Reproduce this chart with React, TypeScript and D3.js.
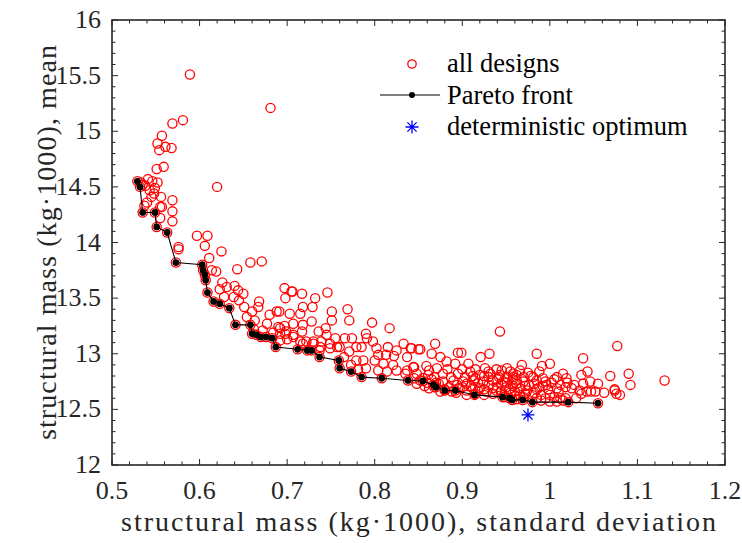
import React from "react";
import * as d3 from "d3";

// all designs (std dev, mean)
const allDesigns: [number, number][] = [
  [0.589, 15.51], [0.681, 15.21], [0.569, 15.07], [0.581, 15.1], [0.557, 14.96], [0.552, 14.89],
  [0.554, 14.83], [0.561, 14.86], [0.568, 14.85], [0.551, 14.66], [0.559, 14.68], [0.62, 14.5],
  [0.541, 14.57], [0.552, 14.54], [0.543, 14.47], [0.538, 14.51], [0.545, 14.41], [0.556, 14.41],
  [0.569, 14.38], [0.557, 14.32], [0.537, 14.33], [0.548, 14.44], [0.546, 14.55], [0.535, 14.52],
  [0.549, 14.49], [0.533, 14.54], [0.54, 14.36], [0.555, 14.22], [0.569, 14.19], [0.569, 14.28],
  [0.555, 14.32], [0.597, 14.06], [0.609, 14.06], [0.606, 13.97], [0.576, 13.96], [0.576, 13.94],
  [0.625, 13.92], [0.611, 13.86], [0.658, 13.82], [0.671, 13.83], [0.643, 13.76], [0.614, 13.75],
  [0.619, 13.74], [0.626, 13.64], [0.623, 13.58], [0.631, 13.6], [0.64, 13.61], [0.644, 13.57],
  [0.65, 13.54], [0.639, 13.51], [0.645, 13.48], [0.628, 13.51], [0.668, 13.47], [0.667, 13.42],
  [0.651, 13.42], [0.66, 13.38], [0.654, 13.33], [0.68, 13.35], [0.688, 13.38], [0.677, 13.27],
  [0.663, 13.3], [0.697, 13.59], [0.706, 13.56], [0.698, 13.5], [0.717, 13.54], [0.732, 13.5],
  [0.746, 13.55], [0.718, 13.42], [0.729, 13.42], [0.691, 13.38], [0.703, 13.36], [0.715, 13.36],
  [0.751, 13.38], [0.769, 13.4], [0.69, 13.24], [0.697, 13.25], [0.707, 13.27], [0.728, 13.29],
  [0.718, 13.26], [0.751, 13.3], [0.771, 13.3], [0.797, 13.28], [0.817, 13.23], [0.692, 13.18],
  [0.699, 13.2], [0.707, 13.15], [0.717, 13.2], [0.736, 13.2], [0.744, 13.23], [0.745, 13.17],
  [0.755, 13.14], [0.766, 13.14], [0.774, 13.14], [0.79, 13.18], [0.791, 13.14], [0.798, 13.11],
  [0.718, 13.09], [0.73, 13.11], [0.739, 13.11], [0.749, 13.05], [0.757, 13.06], [0.771, 13.02],
  [0.779, 13.06], [0.785, 13.06], [0.802, 13.05], [0.815, 13.06], [0.825, 13.03], [0.833, 13.09],
  [0.842, 13.05], [0.85, 13.04], [0.804, 12.99], [0.813, 12.99], [0.822, 12.98], [0.837, 12.97],
  [0.779, 12.94], [0.787, 12.94], [0.8, 12.94], [0.81, 12.91], [0.821, 12.9], [0.804, 12.85],
  [0.814, 12.84], [0.825, 12.85], [0.837, 12.85], [0.844, 12.88], [0.79, 12.87], [0.692, 13.12],
  [0.7, 13.13], [0.737, 13.03], [0.672, 13.21], [0.684, 13.19], [0.662, 13.22], [0.765, 12.97],
  [0.773, 12.9], [0.781, 12.86], [0.692, 13.23], [0.698, 13.18], [0.707, 13.17], [0.715, 13.11],
  [0.722, 13.11], [0.73, 13.09], [0.738, 13.06], [0.749, 13.09], [0.76, 13.06], [0.705, 13.56],
  [0.943, 13.2], [0.841, 13.05], [0.852, 13.04], [0.869, 13.09], [0.865, 13.0], [0.875, 12.97],
  [0.895, 13.01], [0.899, 13.01], [0.921, 12.97], [0.931, 13.0], [0.882, 12.93], [0.892, 12.91],
  [0.907, 12.91], [0.845, 12.88], [0.859, 12.89], [0.871, 12.87], [0.926, 12.87], [0.939, 12.86],
  [0.951, 12.87], [0.835, 12.82], [0.848, 12.82], [0.861, 12.81], [0.878, 12.82], [0.895, 12.82],
  [0.909, 12.84], [0.92, 12.81], [0.932, 12.82], [0.943, 12.81], [0.958, 12.82], [0.852, 12.76],
  [0.865, 12.77], [0.878, 12.75], [0.89, 12.76], [0.901, 12.75], [0.913, 12.76], [0.924, 12.75],
  [0.935, 12.76], [0.947, 12.75], [0.962, 12.76], [0.897, 12.69], [0.905, 12.67], [0.92, 12.69],
  [0.928, 12.66], [0.939, 12.67], [0.954, 12.68], [0.894, 12.72], [0.873, 12.73], [0.885, 12.7],
  [0.91, 12.71], [0.945, 12.72], [0.86, 12.74], [0.868, 12.79], [0.887, 12.79], [0.903, 12.79],
  [0.915, 12.78], [0.93, 12.79], [0.951, 12.79], [0.97, 12.79], [0.985, 13.0], [1.038, 12.96],
  [0.968, 12.9], [0.991, 12.89], [1.0, 12.91], [0.966, 12.85], [1.043, 12.84], [1.036, 12.81],
  [1.069, 12.8], [1.015, 12.82], [1.008, 12.79], [1.019, 12.78], [0.981, 12.79], [0.992, 12.78],
  [0.958, 12.79], [1.046, 12.75], [1.038, 12.73], [1.055, 12.73], [1.025, 12.69], [1.034, 12.67],
  [1.042, 12.66], [1.052, 12.66], [1.062, 12.65], [1.074, 12.67], [1.076, 12.64], [1.012, 12.72],
  [1.002, 12.74], [0.992, 12.71], [0.982, 12.73], [0.972, 12.71], [0.962, 12.73], [1.01, 12.66],
  [1.0, 12.63], [0.99, 12.63], [0.98, 12.63], [0.958, 12.71], [0.966, 12.69], [0.974, 12.67],
  [1.077, 13.07], [1.09, 12.82], [1.131, 12.76], [1.092, 12.72], [1.074, 12.68], [1.08, 12.63],
  [1.036, 12.64], [1.047, 12.66], [0.88, 12.68], [0.888, 12.66], [0.915, 12.64], [0.925, 12.63],
  [0.935, 12.64], [0.948, 12.63], [0.96, 12.62], [0.97, 12.61], [0.985, 12.6], [0.995, 12.6],
  [1.005, 12.61], [1.018, 12.6], [0.94, 12.7], [0.95, 12.7], [0.93, 12.72], [0.918, 12.74],
  [0.905, 12.73], [0.97, 12.75], [0.985, 12.76], [0.995, 12.75], [1.005, 12.77], [1.02, 12.74],
  [1.028, 12.72], [1.018, 12.7], [0.975, 12.83], [0.988, 12.84], [0.955, 12.84], [0.945, 12.85],
  [0.925, 12.8], [0.912, 12.8], [0.94, 12.77], [0.857, 12.71], [0.868, 12.7], [0.848, 12.73],
  [0.862, 12.85], [0.883, 12.86], [0.9, 12.86], [0.915, 12.86], [0.96, 12.66], [0.972, 12.64],
  [0.985, 12.68], [0.998, 12.68], [1.008, 12.69], [0.912, 12.69], [0.925, 12.68], [0.845, 12.78],
  [0.855, 12.78], [0.87, 12.74], [0.99, 12.58], [1.0, 12.57], [1.008, 12.57], [1.015, 12.58],
  [0.962, 12.59], [0.948, 12.61], [1.03, 12.6], [1.012, 12.6], [0.905, 12.63], [0.893, 12.65],
  [0.955, 12.65], [0.982, 12.65], [0.875, 12.66], [0.862, 12.69], [0.935, 12.69], [0.944, 12.66],
  [0.951, 12.74], [0.958, 12.77], [0.976, 12.72], [0.988, 12.7], [0.996, 12.72], [0.93, 12.84],
  [0.962, 12.81], [0.978, 12.8], [0.918, 12.67], [0.9, 12.7], [0.942, 12.79], [0.966, 12.63],
];

// Pareto front points
const paretoFront: [number, number][] = [
  [0.529, 14.55], [0.532, 14.5], [0.535, 14.27], [0.549, 14.27], [0.551, 14.14], [0.563, 14.09],
  [0.573, 13.82], [0.603, 13.8], [0.604, 13.75], [0.606, 13.71], [0.607, 13.66], [0.609, 13.55],
  [0.616, 13.47], [0.623, 13.45], [0.634, 13.41], [0.641, 13.26], [0.658, 13.26], [0.66, 13.18],
  [0.665, 13.17], [0.67, 13.15], [0.676, 13.15], [0.683, 13.14], [0.687, 13.06], [0.712, 13.04],
  [0.723, 13.03], [0.728, 13.03], [0.737, 12.97], [0.759, 12.94], [0.76, 12.87], [0.773, 12.84],
  [0.785, 12.79], [0.808, 12.78], [0.838, 12.76], [0.855, 12.755], [0.867, 12.72], [0.87, 12.7],
  [0.88, 12.67], [0.892, 12.67], [0.914, 12.63], [0.946, 12.61], [0.954, 12.6], [0.957, 12.585],
  [0.969, 12.585], [0.98, 12.565], [1.021, 12.565], [1.055, 12.555],
];

const detOptimum: [number, number] = [0.975, 12.45];

const xTicks = [0.5, 0.6, 0.7, 0.8, 0.9, 1, 1.1, 1.2];
const yTicks = [12, 12.5, 13, 13.5, 14, 14.5, 15, 15.5, 16];

const legendLabels = ["all designs", "Pareto front", "deterministic optimum"];

const axisColor = "#262626";

function starPath(cx: number, cy: number, r: number) {
  const d = r * Math.SQRT1_2;
  return `M${cx - r},${cy}L${cx + r},${cy}M${cx},${cy - r}L${cx},${cy + r}` +
    `M${cx - d},${cy - d}L${cx + d},${cy + d}M${cx - d},${cy + d}L${cx + d},${cy - d}`;
}

export default function App() {
  const width = 742;
  const height = 543;
  const margin = { top: 20, right: 17, bottom: 78, left: 112 };
  const w = width - margin.left - margin.right;
  const h = height - margin.top - margin.bottom;

  const x = d3.scaleLinear().domain([0.5, 1.2]).range([0, w]);
  const y = d3.scaleLinear().domain([12, 16]).range([h, 0]);

  const line = d3.line<[number, number]>().x((d) => x(d[0])).y((d) => y(d[1]));

  const xMinor = d3.range(0, 36).map((i) => 0.5 + i * 0.02);
  const yMinor = d3.range(0, 41).map((i) => 12 + i * 0.1);

  const circles = allDesigns.concat(paretoFront);

  return (
    <svg width={width} height={height}
      style={{ position: "absolute", left: 0, top: 0, fontFamily: '"Liberation Serif", "Times New Roman", Times, serif' }}>
      <g transform={`translate(${margin.left},${margin.top})`}>
        <rect width={w} height={h} fill="white" />

        {circles.map((d, i) => (
          <circle key={"c" + i} cx={x(d[0])} cy={y(d[1])} r={4.6} fill="none" stroke="#ff0000" strokeWidth={1.3} />
        ))}

        <path d={line(paretoFront) || ""} fill="none" stroke="black" strokeWidth={1.1} />
        {paretoFront.map((d, i) => (
          <circle key={"p" + i} cx={x(d[0])} cy={y(d[1])} r={3.4} fill="black" />
        ))}

        <path d={starPath(x(detOptimum[0]), y(detOptimum[1]), 6.5)} stroke="#0000ff" strokeWidth={1.3} fill="none" />

        {/* inward ticks on all four sides */}
        <g stroke={axisColor} strokeWidth={1}>
          {xMinor.map((v, i) => {
            const len = i % 5 === 0 ? 6 : 3.5;
            return (
              <g key={"xt" + i}>
                <line x1={x(v)} x2={x(v)} y1={h} y2={h - len} />
                <line x1={x(v)} x2={x(v)} y1={0} y2={len} />
              </g>
            );
          })}
          {yMinor.map((v, i) => {
            const len = i % 5 === 0 ? 6 : 3.5;
            return (
              <g key={"yt" + i}>
                <line y1={y(v)} y2={y(v)} x1={0} x2={len} />
                <line y1={y(v)} y2={y(v)} x1={w} x2={w - len} />
              </g>
            );
          })}
        </g>
        <rect width={w} height={h} fill="none" stroke={axisColor} strokeWidth={1.6} />

        {xTicks.map((d) => (
          <text key={"xl" + d} x={x(d)} y={h + 34} textAnchor="middle" fontSize={26} fill={axisColor}>
            {String(d)}
          </text>
        ))}
        {yTicks.map((d) => (
          <text key={"yl" + d} x={-11} y={y(d) + 8} textAnchor="end" fontSize={26} fill={axisColor}>
            {String(d)}
          </text>
        ))}

        <text x={w / 2} y={h + 66} textAnchor="middle" fontSize={28} fill={axisColor}
          textLength={595} lengthAdjust="spacing">
          structural mass (kg·1000), standard deviation
        </text>
        <text transform={`translate(${-56},${h / 2}) rotate(-90)`} textAnchor="middle" fontSize={28}
          fill={axisColor} textLength={395} lengthAdjust="spacing">
          structural mass (kg·1000), mean
        </text>
      </g>

      {/* legend */}
      <g transform="translate(412,64)">
        <circle cx={0} cy={0} r={4.2} fill="none" stroke="#ff0000" strokeWidth={1.3} />
        <line x1={-32} x2={28} y1={31} y2={31} stroke="black" strokeWidth={1.1} />
        <circle cx={0} cy={31} r={3} fill="black" />
        <path d={starPath(0, 63, 6.5)} stroke="#0000ff" strokeWidth={1.3} fill="none" />
        {legendLabels.map((d, i) => (
          <text key={d} x={35} y={i * 31.5 + 8} fontSize={26.5} fill="black">
            {d}
          </text>
        ))}
      </g>
    </svg>
  );
}
